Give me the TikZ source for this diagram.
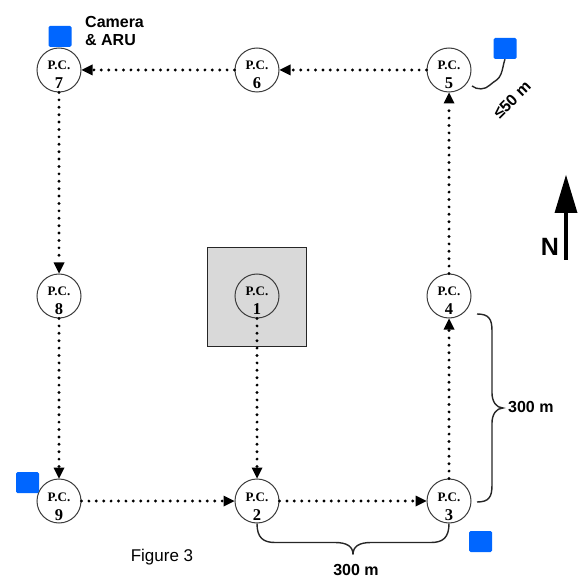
\documentclass[tikz,border=0pt]{standalone}
\usepackage{fontspec}
\setmainfont{Liberation Sans}
\newfontfamily\pcserif{Liberation Serif}
\usetikzlibrary{arrows.meta}
\definecolor{camblue}{RGB}{0, 102, 255}
\definecolor{boxgray}{RGB}{217, 217, 217}
\definecolor{ringgray}{RGB}{60, 60, 60}
% point-count label: "P.C." over the station number
\newcommand{\pclabel}[1]{\pcserif\bfseries\makebox[0pt]{\raisebox{0pt}[0pt][0pt]{\fontsize{13}{13}\selectfont P.C.}}\makebox[0pt]{\raisebox{-19pt}[0pt][0pt]{\fontsize{16.5}{16.5}\selectfont #1}}}

\begin{document}
\begin{tikzpicture}[x=1pt, y=-1pt,
    pc/.style={draw=ringgray, line width=1pt, circle, minimum size=44pt, inner sep=0pt},
    cam/.style={fill=camblue, rounded corners=1.5pt, minimum width=23pt, minimum height=21pt, inner sep=0pt},
    walk/.style={line width=3.2pt, dash pattern=on 0pt off 7.4pt, line cap=round, -{Triangle[length=11pt, width=11pt, line width=0pt]}},
    span/.style={line width=1.4pt, draw=black!85},
    lbl/.style={font=\bfseries\fontsize{16}{18}\selectfont, inner sep=0pt}]
    \useasboundingbox (0,0) rectangle (584,580);

    % central site
    \node[draw=black!85, fill=boxgray, line width=0.9pt, minimum size=99pt, inner sep=0pt] (site) at (257,296.5) {};

    % point counts
    \node[pc] (pc7) at (59,70) {\pclabel{7}};
    \node[pc] (pc6) at (257,70) {\pclabel{6}};
    \node[pc] (pc5) at (449,70) {\pclabel{5}};
    \node[pc] (pc8) at (59,296) {\pclabel{8}};
    \node[pc] (pc1) at (257,296) {\pclabel{1}};
    \node[pc] (pc4) at (449,296) {\pclabel{4}};
    \node[pc] (pc9) at (59,501) {\pclabel{9}};
    \node[pc] (pc2) at (257,501) {\pclabel{2}};
    \node[pc] (pc3) at (449,501) {\pclabel{3}};

    % camera & ARU stations
    \node[cam] (cam7) at (60,36.5) {};
    \node[cam] (cam5) at (505,48.5) {};
    \node[cam] (cam9) at (27.5,482.5) {};
    \node[cam] (cam3) at (480.5,541.5) {};
    \node[lbl, anchor=west, align=left] (camtext) at (85,31) {Camera\\\& ARU};

    % walking route
    \draw[walk] (pc1) -- (pc2);
    \draw[walk] (pc2) -- (pc3);
    \draw[walk] (pc3) -- (pc4);
    \draw[walk] (pc4) -- (pc5);
    \draw[walk] (pc5) -- (pc6);
    \draw[walk] (pc6) -- (pc7);
    \draw[walk] (pc7) -- (pc8);
    \draw[walk] (pc8) -- (pc9);
    \draw[walk] (pc9) -- (pc2);

    % distances
    \draw[span] (pc2.south) .. controls +(0,14) and +(-12,0) .. ++(18,19) -- ++(60,0)
      .. controls +(12,0) and +(0,-8) .. ++(18,12) .. controls +(0,-8) and +(-12,0) .. ++(18,-12)
      -- ++(60,0) .. controls +(12,0) and +(0,14) .. (pc3.south);
    \node[lbl] (slen) at (356,570) {300 m};

    \coordinate (r4) at (477,314);
    \coordinate (r3) at (477,502);
    \draw[span] (r4) .. controls +(12,0) and +(0,-12) .. ++(15,17) -- ++(0,62)
      .. controls +(0,8) and +(-7,0) .. ++(11,15) .. controls +(-7,0) and +(0,-8) .. ++(-11,15)
      -- ++(0,62) .. controls +(0,12) and +(12,0) .. (r3);
    \node[lbl, anchor=west] (wlen) at (508,407) {300 m};

    \coordinate (s5) at (472,86);
    \draw[span] (s5) .. controls (477,90) and (485,90) .. (490,85)
      .. controls (494,81) and (499,80) .. (501,74) .. controls (503,69) and (503,65) .. (cam5.south);
    \node[lbl, rotate=45] (gap) at (512,100) {≤50 m};

    % north arrow
    \coordinate (ntail) at (566,260);
    \coordinate (nhead) at (566,175);
    \draw[line width=4.5pt, -{Triangle[length=38pt, width=23pt, line width=0pt]}] (ntail) -- (nhead);
    \node[font=\bfseries\fontsize{25}{25}\selectfont, inner sep=0pt] (north) at (550,247) {N};

    \node[font=\fontsize{17}{17}\selectfont, inner sep=0pt] (caption) at (162,557) {Figure 3};
\end{tikzpicture}
\end{document}
